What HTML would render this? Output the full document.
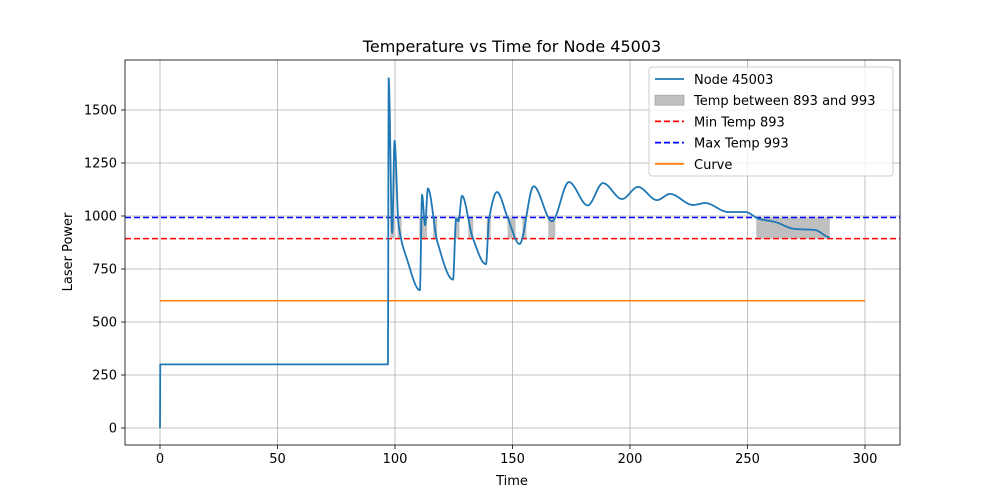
<!DOCTYPE html>
<html><head><meta charset="utf-8"><style>
body{margin:0;background:#fff;font-family:"DejaVu Sans","Liberation Sans",sans-serif}
</style></head><body>
<svg id="chart" width="1000" height="500" xmlns="http://www.w3.org/2000/svg" font-family="DejaVu Sans, Liberation Sans, sans-serif"></svg>
<script>
const times=[0,0.1,97,97.3,98.8,99.8,101.5,105,110.6,111.5,112.8,114,118,124.7,126,127,128.5,133,138.7,140,143.4,148,153,159,166.8,174,182,188.5,196.6,203.4,211.5,217,226.8,232,241.7,249,255,261.7,270,278.7,285];
const temps=[0,300,300,1650,920,1355,960,800,650,1100,957,1130,880,700,990,975,1095,900,773,985,1113,990,868,1140,975,1160,1050,1155,1080,1137,1075,1104,1052,1061,1019,1019,986,972,939,934,900];
const curveTimes=[0,300];
const curveVals=[600,600];
const minT=893,maxT=993;
const xTicks=[0,50,100,150,200,250,300];
const yTicks=[0,250,500,750,1000,1250,1500];
const L=125,R=900,T=60,B=445;
const X=t=>160+t*2.35;
const Y=v=>428-v*0.212;
const svg=document.getElementById('chart');
const NS='http://www.w3.org/2000/svg';
function mk(tag,attrs,parent){const e=document.createElementNS(NS,tag);for(const k in attrs)e.setAttribute(k,attrs[k]);(parent||svg).appendChild(e);return e;}
const n=times.length;const d=[],m=new Array(n).fill(0);
for(let i=0;i<n-1;i++)d.push((temps[i+1]-temps[i])/(times[i+1]-times[i]));
for(let i=1;i<n-1;i++){if(d[i-1]*d[i]>0){m[i]=2/(1/d[i-1]+1/d[i]);}}
function evalAt(t){let i=0;while(i<n-2&&t>times[i+1])i++;const h=times[i+1]-times[i];const s=(t-times[i])/h;
 const h00=2*s*s*s-3*s*s+1,h10=s*s*s-2*s*s+s,h01=-2*s*s*s+3*s*s,h11=s*s*s-s*s;
 return h00*temps[i]+h10*h*m[i]+h01*temps[i+1]+h11*h*m[i+1];}
const samples=[];const tEnd=times[n-1];
for(let i=0;i<n-1;i++){const k=Math.max(2,Math.ceil((times[i+1]-times[i])*10));for(let j=0;j<k;j++){const t=times[i]+(times[i+1]-times[i])*j/k;samples.push([t,evalAt(t)]);}}
samples.push([tEnd,temps[n-1]]);
let e;
e=mk('rect',{x:0,y:0,width:1000,height:500,fill:'#fff'});


xTicks.forEach(t=>{
 e=mk('line',{x1:X(t),x2:X(t),y1:T,y2:B,stroke:'#b0b0b0','stroke-width':0.8});
 
 
 e=mk('line',{x1:X(t),x2:X(t),y1:B,y2:B+4,stroke:'#000','stroke-width':0.8});
 
 
 e=mk('text',{x:X(t),y:B+18,'text-anchor':'middle','font-size':13});
 e.textContent=t;
 
 
});
yTicks.forEach(v=>{
 e=mk('line',{x1:L,x2:R,y1:Y(v),y2:Y(v),stroke:'#b0b0b0','stroke-width':0.8});
 
 
 e=mk('line',{x1:L-4,x2:L,y1:Y(v),y2:Y(v),stroke:'#000','stroke-width':0.8});
 
 
 e=mk('text',{x:L-8,y:Y(v)+4.5,'text-anchor':'end','font-size':13});
 e.textContent=v;
 
 
});
let start=null;
for(let i=0;i<samples.length;i++){const [t,v]=samples[i];const inR=v>=minT&&v<=maxT;
 if(inR&&start===null)start=t;
 if((!inR||i===samples.length-1)&&start!==null){const en=t;let x0=X(start),w=X(en)-X(start);
  if(w<4){x0-=(4-w)/2;w=4;}
  e=mk('rect',{x:x0,y:Y(maxT),width:w,height:Y(minT)-Y(maxT),fill:'#bfbfbf'});
  
  
  start=null;}
}
e=mk('line',{x1:L,x2:R,y1:Y(minT),y2:Y(minT),stroke:'red','stroke-width':1.5,'stroke-dasharray':'6,3'});


e=mk('line',{x1:L,x2:R,y1:Y(maxT),y2:Y(maxT),stroke:'blue','stroke-width':1.5,'stroke-dasharray':'6,3'});


e=mk('polyline',{points:curveTimes.map((t,i)=>X(t)+','+Y(curveVals[i])).join(' '),fill:'none',stroke:'#ff7f0e','stroke-width':1.5});


e=mk('polyline',{points:samples.map(p=>X(p[0]).toFixed(2)+','+Y(p[1]).toFixed(2)).join(' '),fill:'none',stroke:'#1f77b4','stroke-width':1.8,'stroke-linejoin':'round'});


e=mk('rect',{x:L,y:T,width:R-L,height:B-T,fill:'none',stroke:'#000','stroke-width':0.8});


e=mk('text',{x:512,y:52,'text-anchor':'middle','font-size':16});
e.textContent='Temperature vs Time for Node 45003';


e=mk('text',{x:512,y:485,'text-anchor':'middle','font-size':13});
e.textContent='Time';


e=mk('text',{x:72,y:252,'text-anchor':'middle','font-size':13,transform:'rotate(-90 72 252)'});
e.textContent='Laser Power';


const lg=mk('g',{});


e=mk('rect',{x:649,y:67,width:244,height:109,rx:3,fill:'#fff','fill-opacity':0.8,stroke:'#ccc'},lg);


const items=[['Node 45003','line','#1f77b4',''],['Temp between 893 and 993','patch','#bfbfbf',''],['Min Temp 893','line','red','6,3'],['Max Temp 993','line','blue','6,3'],['Curve','line','#ff7f0e','']];
items.forEach((it,i)=>{const y=79+i*21.2;
 const g=mk('g',{},lg);
 
 
 if(it[1]==='patch'){e=mk('rect',{x:655,y:y-5,width:29,height:10,fill:it[2],stroke:'#a8a8a8','stroke-width':0.8},g);}
 else{e=mk('line',{x1:655,x2:684,y1:y,y2:y,stroke:it[2],'stroke-width':1.8,'stroke-dasharray':it[3]},g);}
 
 
 e=mk('text',{x:694,y:y+5,'font-size':13},g);
 e.textContent=it[0];
 
 
});
</script>
</body></html>
